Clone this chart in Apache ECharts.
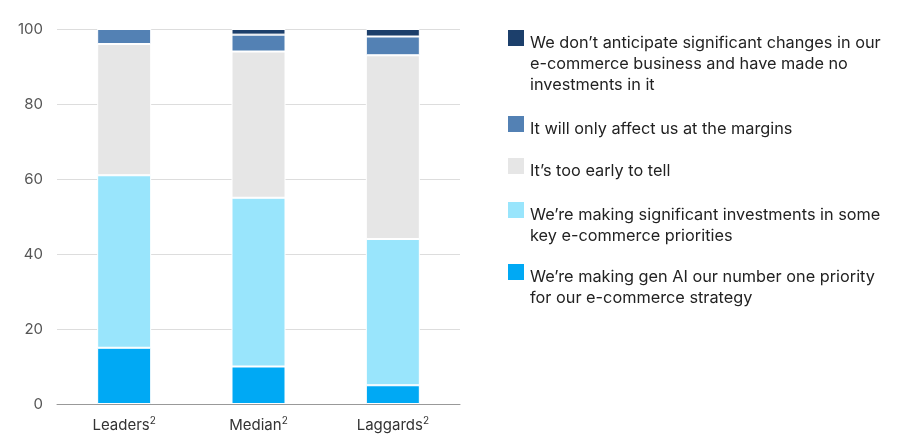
<html><head><script src="https://cdn.jsdelivr.net/npm/echarts@6/dist/echarts.min.js"></script></head>
<body style="margin:0"><div id="c" style="width:901px;height:442px"></div>
<script>
const categories=['Leaders','Median','Laggards'];
const seriesNames=['We\u2019re making gen AI our number one priority\nfor our e-commerce strategy','We\u2019re making significant investments in some\nkey e-commerce priorities','It\u2019s too early to tell','It will only affect us at the margins','We don\u2019t anticipate significant changes in our\ne-commerce business and have made no\ninvestments in it'];
const top1=[15,10,5];
const significant=[46,45,39];
const tooEarly=[35,39,49];
const margins=[4,4.5,5];
const noChange=[0,1.5,2];
const colors=['#00a9f4','#99e5fc','#e6e6e6','#5381b4','#1c3f6b'];
const vals=[top1,significant,tooEarly,margins,noChange];
const legendTops=[264,202,158,116,30];
const f='Inter, sans-serif';
const graphic=[];
seriesNames.forEach((n,i)=>{
 graphic.push({type:'rect',left:508,top:legendTops[i],shape:{width:16,height:16},style:{fill:colors[i]}});
 graphic.push({type:'text',left:530,top:legendTops[i]-1,style:{text:n,fontFamily:f,fontSize:16.3,lineHeight:21,fill:'#222'}});
});
echarts.init(document.getElementById('c')).setOption({
 animation:false,
 grid:{left:57,right:441,top:29,bottom:38},
 graphic,
 xAxis:{type:'category',data:categories,axisTick:{show:false},axisLine:{lineStyle:{color:'#999'}},
  axisLabel:{color:'#333',fontFamily:f,fontSize:15,margin:8,formatter:v=>v+'{s|2}',rich:{s:{fontSize:10,verticalAlign:'top',padding:[0,0,8,0],fontFamily:f,color:'#333'}}}},
 yAxis:{type:'value',min:0,max:100,interval:20,axisLabel:{color:'#555',fontFamily:f,fontSize:15,margin:14},splitLine:{lineStyle:{color:'#ddd'}}},
 series:vals.map((d,i)=>({name:seriesNames[i],type:'bar',stack:'a',data:d,barWidth:54,itemStyle:{color:colors[i],borderColor:'#fff',borderWidth:1}}))
});
</script></body></html>
